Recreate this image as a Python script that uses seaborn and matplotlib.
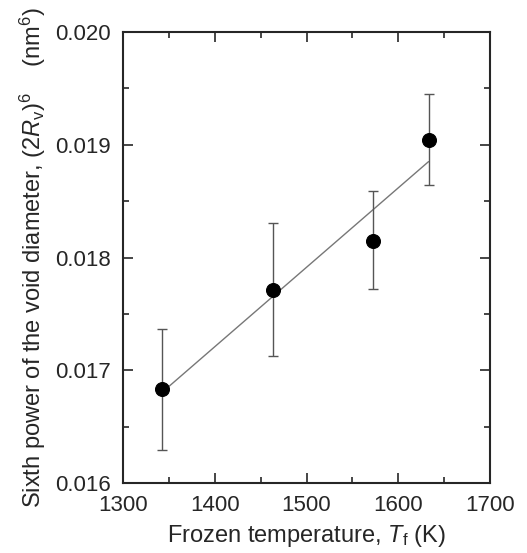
import numpy as np
import pandas as pd
import matplotlib
matplotlib.use("Agg")
import matplotlib.pyplot as plt
from matplotlib.ticker import MultipleLocator
import seaborn as sns

# Data
temps = [1343, 1463, 1572, 1633]
d6 = [0.01683, 0.01771, 0.01815, 0.01904]
err_low = [0.01629, 0.01713, 0.01772, 0.01864]
err_high = [0.01737, 0.01831, 0.01859, 0.01945]

df = pd.DataFrame({"T": temps, "D6": d6})

sns.set_style("ticks")
plt.rcParams['font.family'] = ['Liberation Sans', 'DejaVu Sans']
plt.rcParams['mathtext.fontset'] = 'custom'
plt.rcParams['mathtext.rm'] = 'Liberation Sans'
plt.rcParams['mathtext.it'] = 'Liberation Sans:italic'

fig = plt.figure(figsize=(5.27, 5.53), dpi=100)
ax = fig.add_axes([0.2334, 0.1266, 0.6964, 0.8155])

# linear fit line
sns.regplot(data=df, x="T", y="D6", ax=ax, ci=None, scatter=False, truncate=True,
            line_kws=dict(color="#777777", lw=1.0))

yerr = np.array([np.array(d6) - np.array(err_low), np.array(err_high) - np.array(d6)])
ax.errorbar(temps, d6, yerr=yerr, fmt="none", ecolor="#555555", elinewidth=1.0,
            capsize=3.3, capthick=1.0, zorder=2)
sns.scatterplot(data=df, x="T", y="D6", ax=ax, color="black", s=100, edgecolor="black",
                zorder=3, legend=False)

ax.set_xlim(1300, 1700)
ax.set_ylim(0.016, 0.020)
ax.xaxis.set_major_locator(MultipleLocator(100))
ax.xaxis.set_minor_locator(MultipleLocator(50))
ax.yaxis.set_major_locator(MultipleLocator(0.001))
ax.yaxis.set_minor_locator(MultipleLocator(0.0005))
ax.yaxis.set_major_formatter(matplotlib.ticker.FormatStrFormatter("%.3f"))

ax.tick_params(which="both", direction="in", top=True, right=True, labelsize=16, width=1.2)
ax.tick_params(which="major", length=7)
ax.tick_params(which="minor", length=4)
ax.tick_params(axis="x", which="major", pad=9)
ax.tick_params(axis="y", which="major", pad=9)
for sp in ax.spines.values():
    sp.set_linewidth(1.5)
    sp.set_visible(True)

ax.set_xlabel("Frozen temperature, $T_\\mathrm{f}$ (K)", fontsize=17, labelpad=5)
ax.set_ylabel("Sixth power of the void diameter, (2$R_\\mathrm{v}$)$^6$    (nm$^6$)",
              fontsize=17, labelpad=5)

fig.savefig("out.png", dpi=100)
